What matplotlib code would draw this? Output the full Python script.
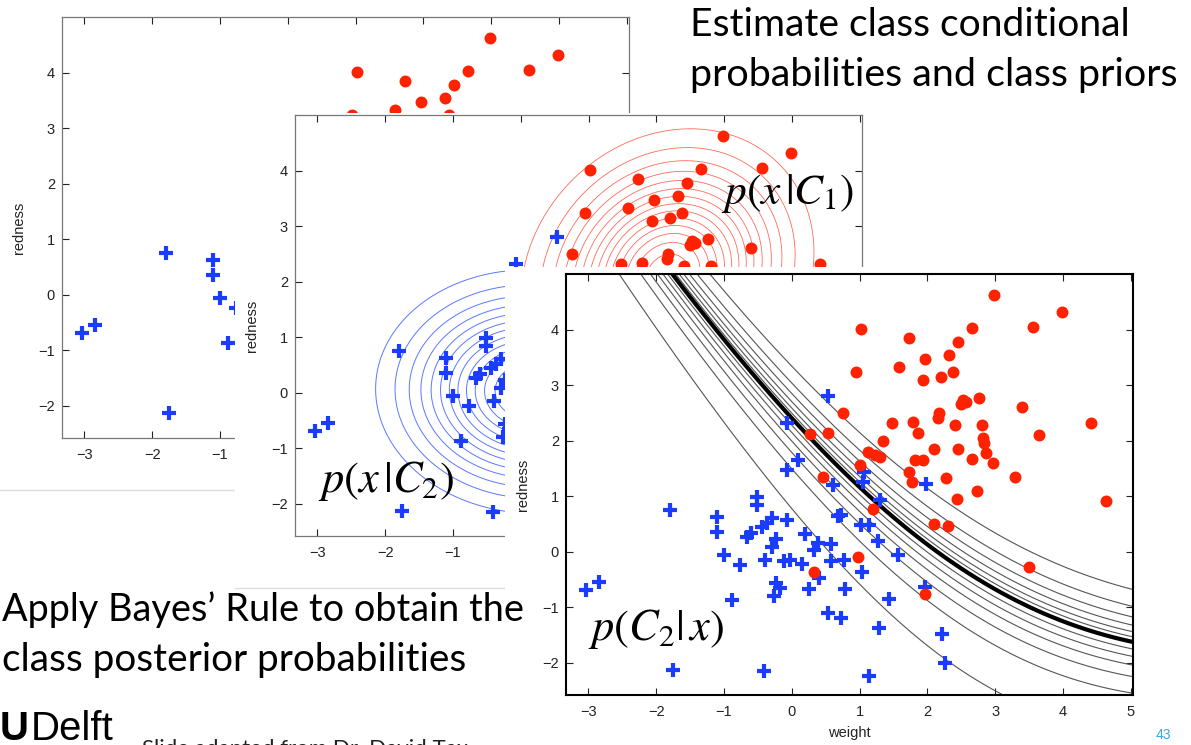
import numpy as np
import matplotlib
matplotlib.use("Agg")
import matplotlib.pyplot as plt
from matplotlib.patches import Rectangle
from matplotlib.lines import Line2D

# ---------------- data ----------------
red_x = [2.98, 3.98, 3.55, 2.65, 1.02, 1.72, 2.45, 2.32, 1.96, 1.58,
         0.94, 2.38, 2.20, 1.93, 2.76, 2.52, 2.49, 2.57, 3.39, 0.75,
         2.17, 2.16, 1.48, 1.78, 2.41, 2.81, 4.41, 3.65, 0.27, 0.54,
         1.86, 1.34, 2.82, 2.83, 2.10, 2.45, 1.12, 1.22, 1.30, 2.86,
         1.81, 1.93, 2.65, 2.96, 1.01, 1.72, 0.46, 3.29, 2.27, 1.77,
         2.73, 2.44, 4.63, 1.19, 2.10, 2.30, 0.97, 3.49, 0.33, 1.96]
red_y = [4.62, 4.31, 4.05, 4.02, 4.01, 3.84, 3.77, 3.54, 3.47, 3.32,
         3.24, 3.23, 3.14, 3.09, 2.77, 2.73, 2.66, 2.69, 2.61, 2.50,
         2.49, 2.40, 2.31, 2.34, 2.29, 2.29, 2.32, 2.10, 2.12, 2.13,
         2.14, 2.00, 2.04, 1.96, 1.85, 1.85, 1.79, 1.75, 1.71, 1.77,
         1.65, 1.65, 1.67, 1.60, 1.57, 1.43, 1.34, 1.34, 1.32, 1.26,
         1.09, 0.94, 0.91, 0.76, 0.49, 0.47, -0.09, -0.28, -0.36, -0.76]
blue_x = [0.54, -0.07, 0.09, -0.07, 1.07, 1.05, 0.61, 1.98, 1.30, -0.52,
          -0.52, -1.79, -1.11, -1.10, -0.30, -0.36, -0.44, -0.60, -0.66, -0.07,
          -0.23, -0.29, 0.20, 0.68, 0.73, 1.02, 1.14, 1.27, 0.38, 0.32,
          0.57, -1.00, -0.76, -0.40, -0.12, -0.03, 0.15, 0.58, 0.77, 1.57,
          1.04, 0.40, -0.23, -0.18, 0.26, 0.78, -0.27, -0.88, 1.43, 1.96,
          -3.04, -2.85, 0.54, 0.73, 1.28, 2.21, 2.26, -1.75, -0.41, 1.14]
blue_y = [2.80, 2.32, 1.66, 1.48, 1.44, 1.26, 1.20, 1.22, 0.93, 0.98,
          0.84, 0.75, 0.63, 0.35, 0.60, 0.51, 0.45, 0.34, 0.26, 0.57,
          0.22, 0.08, 0.32, 0.64, 0.66, 0.48, 0.48, 0.20, 0.15, 0.03,
          0.14, -0.06, -0.24, -0.15, -0.16, -0.15, -0.22, -0.17, -0.15, -0.06,
          -0.36, -0.48, -0.57, -0.66, -0.68, -0.68, -0.80, -0.87, -0.86, -0.64,
          -0.69, -0.54, -1.11, -1.20, -1.38, -1.48, -2.00, -2.13, -2.14, -2.24]

x_ticks = [-3, -2, -1, 0, 1, 2, 3, 4, 5]
y_ticks = [-2, -1, 0, 1, 2, 3, 4]
posterior_levels = [0.15, 0.24, 0.31, 0.37, 0.42, 0.46,
                    0.555, 0.61, 0.67, 0.74, 0.82, 0.93]
decision_level = [0.5]

# ---------------- layout ----------------
W, H = 1191, 745
fig = plt.figure(figsize=(W / 100, H / 100), dpi=100)
fig.patch.set_facecolor("white")
plt.rcParams["mathtext.fontset"] = "stix"

RED = "#ff2200"
BLUE = "#1a3cff"
XLIM = (-3.33, 5.03)
YLIM = (-2.58, 5.0)


def rect(left, top, w, h):
    return [left / W, 1 - (top + h) / H, w / W, h / H]


def bg_box(left, top, right, bottom, z):
    fig.add_artist(Rectangle((left / W, 1 - bottom / H), (right - left) / W,
                             (bottom - top) / H, transform=fig.transFigure,
                             facecolor="white", edgecolor="none", zorder=z))


def make_axes(left, top, z, frame_col, frame_lw):
    ax = fig.add_axes(rect(left, top, 567, 421))
    ax.set_zorder(z)
    ax.set_xlim(*XLIM)
    ax.set_ylim(*YLIM)
    ax.set_xticks(x_ticks)
    ax.set_yticks(y_ticks)
    ax.tick_params(direction="in", top=True, right=True, length=5, width=0.8,
                   labelsize=10.5, colors="#222222")
    ax.tick_params(axis="x", pad=7)
    ax.tick_params(axis="y", pad=5)
    for lab in ax.get_xticklabels() + ax.get_yticklabels():
        lab.set_family("Liberation Sans")
    for s in ax.spines.values():
        s.set_color(frame_col)
        s.set_linewidth(frame_lw)
    ax.set_ylabel("redness", family="Liberation Sans", fontsize=10.5,
                  color="#222222", labelpad=9)
    ax.set_xlabel("weight", family="Liberation Sans", fontsize=10.5,
                  color="#222222", labelpad=5)
    return ax


def scatter(ax):
    ax.plot(blue_x, blue_y, "+", color=BLUE, ms=9.5, mew=3.0, zorder=3)
    ax.plot(red_x, red_y, "o", color=RED, ms=8.6, mec=RED, mew=0, zorder=3)


# Gaussian class models fitted to the points
Xr = np.column_stack([red_x, red_y])
Xb = np.column_stack([blue_x, blue_y])
mu_r, C_r = Xr.mean(0), np.cov(Xr.T)
mu_b, C_b = Xb.mean(0), np.cov(Xb.T)
gx, gy = np.meshgrid(np.linspace(*XLIM, 500), np.linspace(*YLIM, 500))


def gauss(mu, C):
    d = np.stack([gx - mu[0], gy - mu[1]], -1)
    Ci = np.linalg.inv(C)
    q = np.einsum("...i,ij,...j->...", d, Ci, d)
    return np.exp(-q / 2) / (2 * np.pi * np.sqrt(np.linalg.det(C)))


g_r = gauss(mu_r, C_r)
g_b = gauss(mu_b, C_b)
pri_r = len(red_x) / (len(red_x) + len(blue_x))
post_b = (1 - pri_r) * g_b / ((1 - pri_r) * g_b + pri_r * g_r)

# back plot
ax1 = make_axes(62, 17, 1, "#777777", 0.9)
scatter(ax1)
fig.add_artist(Line2D([0, 235 / W], [1 - 490 / H] * 2, color="#dddddd", lw=1,
                      transform=fig.transFigure, zorder=1.5))

# middle plot
bg_box(235, 113, 885, 588, 2)
fig.add_artist(Line2D([235 / W, 885 / W], [1 - 588 / H] * 2, color="#dddddd",
                      lw=1, transform=fig.transFigure, zorder=2.1))
ax2 = make_axes(295, 115, 3, "#777777", 0.9)
ax2.contour(gx, gy, g_b, levels=g_b.max() * np.linspace(0.1, 0.95, 13),
            colors="#5a78ff", linewidths=0.7, zorder=1)
ax2.contour(gx, gy, g_r, levels=g_r.max() * np.linspace(0.08, 0.95, 14),
            colors="#ff6a5a", linewidths=0.6, zorder=1)
scatter(ax2)

# footer under front picture
fig.text(142 / W, 1 - 739 / H, "Slide adapted from Dr. David Tax", va="top",
         ha="left", family="Lato", fontsize=16, color="#222222", zorder=3.5)

# front plot
bg_box(505, 267, 1150, 760, 4)
ax3 = make_axes(566, 274, 5, "black", 1.5)
scatter(ax3)
ax3.contour(gx, gy, post_b, levels=posterior_levels, colors="#555555",
            linewidths=0.8, zorder=2)
ax3.contour(gx, gy, post_b, levels=decision_level, colors="black",
            linewidths=3.0, zorder=2)

# ---------------- slide texts ----------------
renderer = fig.canvas.get_renderer()


def fit_text(x, y, s, width, **kw):
    t = fig.text(x / W, 1 - y / H, s, fontsize=20, ha="left", va="baseline",
                 zorder=10, **kw)
    bb = t.get_window_extent(renderer)
    t.set_fontsize(20 * width / bb.width)
    return t


fit_text(690, 36, "Estimate class conditional", 440, family="Lato", color="black")
fit_text(690, 86, "probabilities and class priors", 490, family="Lato", color="black")
fit_text(2, 621, "Apply Bayes\u2019 Rule to obtain the", 522, family="Lato", color="black")
fit_text(2, 671, "class posterior probabilities", 464, family="Lato", color="black")

fit_text(721, 204, r"$p(x\,|C_1)$", 134, color="black")
fit_text(318, 492, r"$p(x\,|C_2)$", 137, color="black")
fit_text(588, 640, r"$p(C_2|\,x)$", 137, color="black")

tu = fig.text(0, 1 - 740 / H, "U", fontsize=29, weight="bold", family="Liberation Sans",
              ha="left", va="baseline", zorder=10)
bbu = tu.get_window_extent(renderer)
fig.text((bbu.x1 + 2) / W, 1 - 740 / H, "Delft", fontsize=29, family="Liberation Sans",
         ha="left", va="baseline", zorder=10)

fig.text(1163 / W, 1 - 735 / H, "43", fontsize=10, color="#36a9e1",
         family="Liberation Sans", ha="center", va="center", zorder=10)

fig.savefig("out.png", dpi=100)
